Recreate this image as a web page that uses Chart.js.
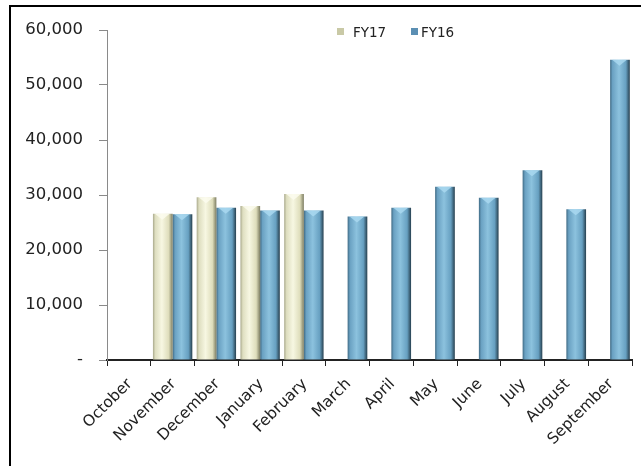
<!DOCTYPE html>
<html>
<head>
<meta charset="utf-8">
<script src="https://cdn.jsdelivr.net/npm/chart.js@4.4.1/dist/chart.umd.min.js"></script>
<style>
  html, body { margin: 0; padding: 0; background: #fff; overflow: hidden; }
  #wrap { position: relative; width: 641px; height: 466px; }
  #frame { position: absolute; left: 9px; top: 5px; width: 700px; height: 600px; border: 2px solid #000; box-sizing: border-box; pointer-events: none; }
  canvas { position: absolute; left: 0; top: 0; }
  .lg { position: absolute; font-family: "DejaVu Sans", sans-serif; font-size: 13.5px; line-height: 16px; color: #222; white-space: nowrap; }
  .mk { position: absolute; width: 7px; height: 7px; }
</style>
</head>
<body>
<div id="wrap">
  <canvas id="c" width="641" height="466"></canvas>
  <div id="frame"></div>
  <div id="legend"></div>
</div>
<script>
const categories = ["October","November","December","January","February","March","April","May","June","July","August","September"];
const seriesNames = ["FY17","FY16"];
const fy17 = [null, 26600, 29600, 28000, 30200, null, null, null, null, null, null, null];
const fy16 = [null, 26500, 27700, 27200, 27200, 26100, 27700, 31500, 29500, 34500, 27400, 54600];
const yTicks = [0, 10000, 20000, 30000, 40000, 50000, 60000];

const palettes = [
  [[0,'#a9a98c'],[0.12,'#dedec0'],[0.45,'#f7f7e2'],[0.8,'#deddbb'],[1,'#7d7d62']],
  [[0,'#3f6a84'],[0.12,'#6aa1c2'],[0.45,'#8cc2de'],[0.8,'#67a0c1'],[1,'#263f4e']]
];
const bevelColors = ['#fbfbee', '#a9d8f0'];
const legendColors = ['#c9c9a6', '#5b8fb3'];

const gradientPlugin = {
  id: 'barGradient',
  beforeDatasetsDraw(chart) {
    const ctx = chart.ctx;
    chart.data.datasets.forEach((ds, di) => {
      const meta = chart.getDatasetMeta(di);
      meta.data.forEach(el => {
        const half = el.width / 2;
        const g = ctx.createLinearGradient(el.x - half, 0, el.x + half, 0);
        palettes[di].forEach(s => g.addColorStop(s[0], s[1]));
        el.options = Object.assign({}, el.options, { backgroundColor: g });
      });
    });
  },
  afterDatasetsDraw(chart) {
    const ctx = chart.ctx;
    chart.data.datasets.forEach((ds, di) => {
      const meta = chart.getDatasetMeta(di);
      meta.data.forEach((el, i) => {
        if (ds.data[i] == null) return;
        const half = el.width / 2;
        ctx.save();
        ctx.fillStyle = bevelColors[di];
        ctx.globalAlpha = 0.85;
        ctx.beginPath();
        ctx.moveTo(el.x - half + 2, el.y);
        ctx.lineTo(el.x + half - 3, el.y);
        ctx.lineTo(el.x - 0.5, el.y + 6);
        ctx.closePath();
        ctx.fill();
        ctx.restore();
      });
    });
  }
};

const fontFamily = '"DejaVu Sans", sans-serif';

new Chart(document.getElementById('c'), {
  type: 'bar',
  data: {
    labels: categories,
    datasets: [
      { label: seriesNames[0], data: fy17, backgroundColor: legendColors[0], borderWidth: 0 },
      { label: seriesNames[1], data: fy16, backgroundColor: legendColors[1], borderWidth: 0 }
    ]
  },
  options: {
    responsive: false,
    animation: false,
    events: [],
    categoryPercentage: 0.9,
    barPercentage: 1.0,
    layout: { padding: { left: 0, right: 9, top: 30, bottom: 0 } },
    plugins: { legend: { display: false }, tooltip: { enabled: false } },
    scales: {
      x: {
        grid: { display: true, drawOnChartArea: false, offset: true, color: '#222', tickLength: 6, lineWidth: 1 },
        border: { display: true, color: '#222', width: 2 },
        ticks: {
          font: { family: fontFamily, size: 15.5 },
          color: '#222',
          maxRotation: 45, minRotation: 45,
          autoSkip: false,
          padding: 9,
          labelOffset: 1
        },
        afterFit(scale) { scale.height = 106; }
      },
      y: {
        min: 0, max: 60000,
        afterBuildTicks(scale) { scale.ticks = yTicks.map(v => ({ value: v })); },
        grid: { display: true, drawOnChartArea: false, color: '#8a8a8a', tickLength: 8 },
        border: { display: true, color: '#8a8a8a', width: 1 },
        ticks: {
          font: { family: fontFamily, size: 16.5 },
          color: '#222',
          padding: 16,
          callback(v) { return v === 0 ? '-' : v.toLocaleString('en-US'); }
        },
        afterFit(scale) { scale.width = 107; }
      }
    }
  },
  plugins: [gradientPlugin]
});

const leg = document.getElementById('legend');
const legendMarkerX = [337, 411];
const legendTextX = [353, 421];
seriesNames.forEach((n, i) => {
  const m = document.createElement('div');
  m.className = 'mk';
  m.style.left = legendMarkerX[i] + 'px';
  m.style.top = '28px';
  m.style.background = legendColors[i];
  leg.appendChild(m);
  const t = document.createElement('div');
  t.className = 'lg';
  t.style.left = legendTextX[i] + 'px';
  t.style.top = '24px';
  t.textContent = n;
  leg.appendChild(t);
});
</script>
</body>
</html>
